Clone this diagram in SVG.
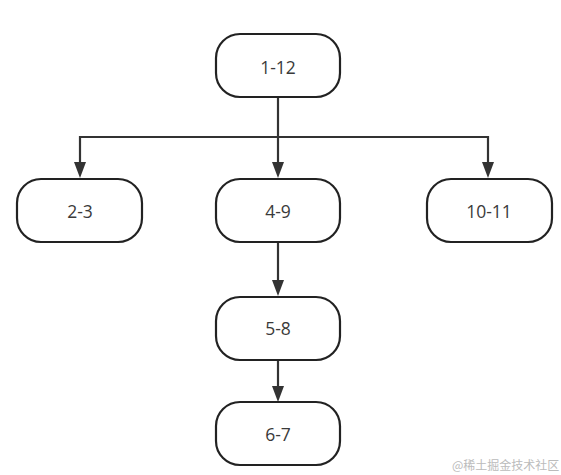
<svg xmlns="http://www.w3.org/2000/svg" width="561" height="475" viewBox="0 0 561 475">
<defs>
<style>
.n rect{fill:#fff;stroke:#222;stroke-width:2.2}
.n text{font-family:"Open Sans","Noto Sans",sans-serif;font-size:17.5px;fill:#3a3a3a;text-anchor:middle;dominant-baseline:central}
.c path{fill:none;stroke:#333;stroke-width:2.2}
.c polygon{fill:#333}
.wm{font-family:"Noto Sans CJK SC",sans-serif;font-size:12px;fill:#bbb}
</style>
</defs>
<rect width="561" height="475" fill="#fff"/>
<g id="connectors" class="c">
<path d="M278,97 V137"/>
<path d="M80,162 V137 H488 V162"/>
<path d="M278,137 V162"/>
<polygon points="74,162 86,162 80,178"/>
<polygon points="272,162 284,162 278,178"/>
<polygon points="482,162 494,162 488,178"/>
<path d="M278,242 V280"/>
<polygon points="272,280 284,280 278,296"/>
<path d="M278,360 V386"/>
<polygon points="272,386 284,386 278,402"/>
</g>
<g id="n1" class="n"><rect x="216" y="34" width="124" height="63" rx="24"/><text x="278" y="67">1-12</text></g>
<g id="n2" class="n"><rect x="17" y="179" width="125" height="63" rx="24"/><text x="80" y="211">2-3</text></g>
<g id="n3" class="n"><rect x="216" y="179" width="124" height="63" rx="24"/><text x="278" y="211">4-9</text></g>
<g id="n4" class="n"><rect x="427" y="179" width="125" height="63" rx="24"/><text x="489" y="211">10-11</text></g>
<g id="n5" class="n"><rect x="216" y="297" width="124" height="63" rx="24"/><text x="278" y="328">5-8</text></g>
<g id="n6" class="n"><rect x="216" y="402" width="124" height="63" rx="24"/><text x="278" y="434">6-7</text></g>
<text class="wm" x="452" y="470">@稀土掘金技术社区</text>
</svg>
